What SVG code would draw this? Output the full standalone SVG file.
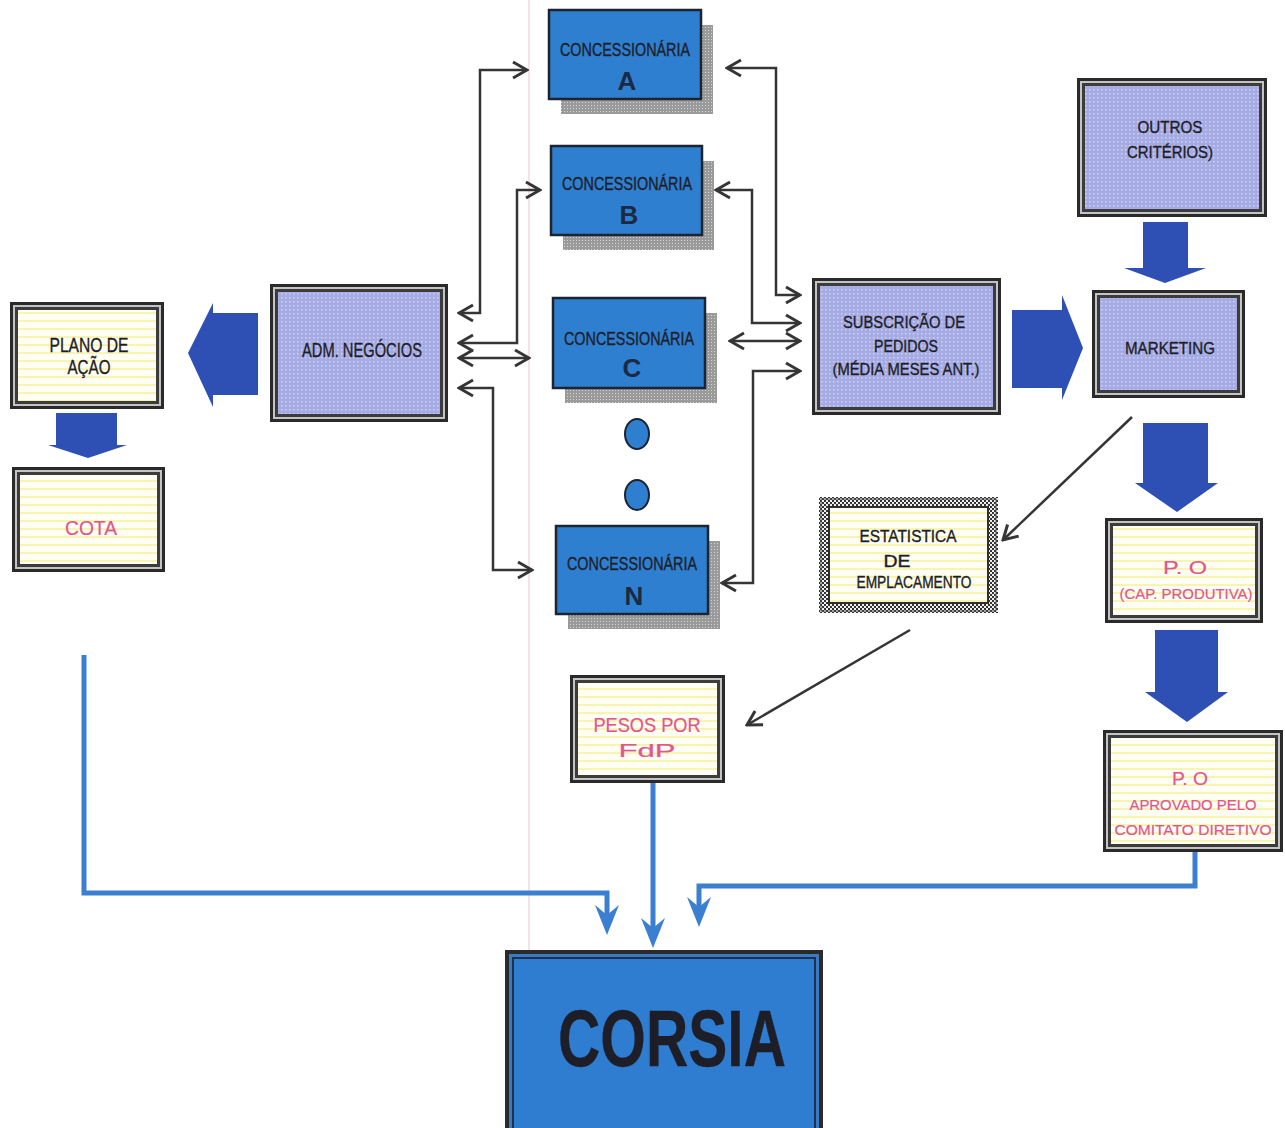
<svg xmlns="http://www.w3.org/2000/svg" width="1285" height="1128" viewBox="0 0 1285 1128">
<style>
.t{font-family:"Liberation Sans",Arial,sans-serif;fill:#1e1e28;stroke:#1e1e28;stroke-width:0.35;text-anchor:middle}
.pk{fill:#e2558f;stroke:#e2558f;stroke-width:0.2}
.cn{font-size:18px}
.lt{font-size:26px;font-weight:bold;fill:#1a2a44;stroke:none}
.md{font-size:20px}
.sm{font-size:16px}
.o1{fill:#2a2a2a}
.o2{fill:#c4c4c4}
.o3{fill:#3c3c3c}
.lav{fill:url(#dots)}
.yel{fill:url(#stripes)}
.conc{fill:#2f7fd0;stroke:#1c2430;stroke-width:2.5}
.shd{fill:url(#shade)}
.blk{fill:#2e4fb3}
.ln{fill:none;stroke:#353535;stroke-width:2.5;marker-start:url(#ah);marker-end:url(#ah)}
.ln1{fill:none;stroke:#353535;stroke-width:2.5;marker-end:url(#ah)}
.bl{fill:none;stroke:#3a7fd0;stroke-width:5;marker-end:url(#bh)}
</style>
<defs>
<pattern id="dots" width="4" height="4" patternUnits="userSpaceOnUse"><rect width="4" height="4" fill="#a6abe3"/><rect x="1" y="1" width="1.5" height="1.5" fill="#cfd2f3"/></pattern>
<pattern id="stripes" width="8" height="8" patternUnits="userSpaceOnUse"><rect width="8" height="8" fill="#fffef3"/><rect width="8" height="2" fill="#f9f4b4"/></pattern>
<pattern id="shade" width="3" height="3" patternUnits="userSpaceOnUse"><rect width="3" height="3" fill="#9a9a9a"/><rect width="1" height="1" fill="#d6d6d6"/></pattern>
<pattern id="checker" width="4" height="4" patternUnits="userSpaceOnUse"><rect width="4" height="4" fill="#efefef"/><rect width="2" height="2" fill="#333"/><rect x="2" y="2" width="2" height="2" fill="#333"/></pattern>
<marker id="ah" viewBox="-17 -10 19 20" refX="0" refY="0" markerWidth="19" markerHeight="20" markerUnits="userSpaceOnUse" orient="auto-start-reverse"><path d="M-14,-8 L0,0 L-14,8" fill="none" stroke="#353535" stroke-width="3"/></marker>
<marker id="bh" viewBox="-22 -14 34 28" refX="0" refY="0" markerWidth="34" markerHeight="28" markerUnits="userSpaceOnUse" orient="auto"><path d="M10,0 L-20,-12 L-10,0 L-20,12 Z" fill="#3a7fd0"/></marker>
</defs>
<rect width="1285" height="1128" fill="#ffffff"/>
<line x1="529" y1="0" x2="529" y2="1128" stroke="#f3e2ec" stroke-width="2"/>

<g id="conc-a">
<rect class="shd" x="561" y="25" width="152" height="89"/>
<rect class="conc" x="549" y="10" width="152" height="89"/>
<text class="t cn" x="625" y="56" textLength="130" lengthAdjust="spacingAndGlyphs">CONCESSIONÁRIA</text>
<text class="t lt" x="627" y="90">A</text>
</g>
<g id="conc-b">
<rect class="shd" x="563" y="161" width="151" height="89"/>
<rect class="conc" x="551" y="146" width="151" height="89"/>
<text class="t cn" x="627" y="190" textLength="130" lengthAdjust="spacingAndGlyphs">CONCESSIONÁRIA</text>
<text class="t lt" x="629" y="224">B</text>
</g>
<g id="conc-c">
<rect class="shd" x="565" y="313" width="152" height="90"/>
<rect class="conc" x="553" y="298" width="152" height="90"/>
<text class="t cn" x="629" y="345" textLength="130" lengthAdjust="spacingAndGlyphs">CONCESSIONÁRIA</text>
<text class="t lt" x="632" y="377">C</text>
</g>
<g id="dots-ellipsis">
<ellipse cx="637" cy="434" rx="12" ry="15" fill="#2f7fd0" stroke="#1c2430" stroke-width="2"/>
<ellipse cx="637" cy="495" rx="12" ry="15" fill="#2f7fd0" stroke="#1c2430" stroke-width="2"/>
</g>
<g id="conc-n">
<rect class="shd" x="568" y="541" width="152" height="88"/>
<rect class="conc" x="556" y="526" width="152" height="88"/>
<text class="t cn" x="632" y="570" textLength="130" lengthAdjust="spacingAndGlyphs">CONCESSIONÁRIA</text>
<text class="t lt" x="634" y="605">N</text>
</g>

<g id="plano">
<rect class="o1" x="10" y="302" width="154" height="107"/>
<rect class="o2" x="13" y="305" width="148" height="101"/>
<rect class="o3" x="15" y="307" width="144" height="97"/>
<rect class="yel" x="18" y="310" width="138" height="91"/>
<text class="t md" x="89" y="352" textLength="79" lengthAdjust="spacingAndGlyphs">PLANO DE</text>
<text class="t md" x="89" y="374" textLength="43" lengthAdjust="spacingAndGlyphs">AÇÃO</text>
</g>
<g id="cota">
<rect class="o1" x="12" y="467" width="153" height="105"/>
<rect class="o2" x="15" y="470" width="147" height="99"/>
<rect class="o3" x="17" y="472" width="143" height="95"/>
<rect class="yel" x="20" y="475" width="137" height="89"/>
<text class="t md pk" x="91" y="535" textLength="52" lengthAdjust="spacingAndGlyphs">COTA</text>
</g>
<g id="adm">
<rect class="o1" x="270" y="284" width="178" height="138"/>
<rect class="o2" x="273" y="287" width="172" height="132"/>
<rect class="o3" x="275" y="289" width="168" height="128"/>
<rect class="lav" x="278" y="292" width="162" height="122"/>
<text class="t md" x="362" y="357" textLength="120" lengthAdjust="spacingAndGlyphs">ADM. NEGÓCIOS</text>
</g>
<g id="subscricao">
<rect class="o1" x="812" y="278" width="189" height="137"/>
<rect class="o2" x="815" y="281" width="183" height="131"/>
<rect class="o3" x="817" y="283" width="179" height="127"/>
<rect class="lav" x="820" y="286" width="173" height="121"/>
<text class="t sm" x="904" y="328" textLength="122" lengthAdjust="spacingAndGlyphs">SUBSCRIÇÃO DE</text>
<text class="t sm" x="906" y="352" textLength="64" lengthAdjust="spacingAndGlyphs">PEDIDOS</text>
<text class="t sm" x="906" y="375" textLength="147" lengthAdjust="spacingAndGlyphs">(MÉDIA MESES ANT.)</text>
</g>
<g id="marketing">
<rect class="o1" x="1092" y="290" width="153" height="108"/>
<rect class="o2" x="1095" y="293" width="147" height="102"/>
<rect class="o3" x="1097" y="295" width="143" height="98"/>
<rect class="lav" x="1100" y="298" width="137" height="92"/>
<text class="t sm" x="1170" y="354" textLength="90" lengthAdjust="spacingAndGlyphs">MARKETING</text>
</g>
<g id="outros">
<rect class="o1" x="1077" y="78" width="190" height="139"/>
<rect class="o2" x="1080" y="81" width="184" height="133"/>
<rect class="o3" x="1082" y="83" width="180" height="129"/>
<rect class="lav" x="1085" y="86" width="174" height="123"/>
<text class="t sm" x="1170" y="133" textLength="65" lengthAdjust="spacingAndGlyphs">OUTROS</text>
<text class="t sm" x="1170" y="158" textLength="86" lengthAdjust="spacingAndGlyphs">CRITÉRIOS)</text>
</g>
<g id="estatistica">
<rect x="819" y="497" width="179" height="116" fill="url(#checker)"/>
<rect x="821" y="499" width="175" height="112" fill="none" stroke="#555" stroke-width="1"/>
<rect x="828" y="506" width="161" height="98" fill="#2f2f2f"/>
<rect class="yel" x="830" y="508" width="157" height="94"/>
<text class="t sm" x="908" y="542" textLength="97" lengthAdjust="spacingAndGlyphs">ESTATISTICA</text>
<text class="t sm" x="897" y="567" textLength="27" lengthAdjust="spacingAndGlyphs">DE</text>
<text class="t sm" x="914" y="588" textLength="115" lengthAdjust="spacingAndGlyphs">EMPLACAMENTO</text>
</g>
<g id="po-cap">
<rect class="o1" x="1105" y="518" width="158" height="105"/>
<rect class="o2" x="1108" y="521" width="152" height="99"/>
<rect class="o3" x="1110" y="523" width="148" height="95"/>
<rect class="yel" x="1113" y="526" width="142" height="89"/>
<text class="t pk" x="1185" y="574" font-size="19" textLength="44" lengthAdjust="spacingAndGlyphs">P. O</text>
<text class="t pk" x="1186" y="599" font-size="15" textLength="133" lengthAdjust="spacingAndGlyphs">(CAP. PRODUTIVA)</text>
</g>
<g id="po-aprovado">
<rect class="o1" x="1103" y="730" width="180" height="122"/>
<rect class="o2" x="1106" y="733" width="174" height="116"/>
<rect class="o3" x="1108" y="735" width="170" height="112"/>
<rect class="yel" x="1111" y="738" width="164" height="106"/>
<text class="t pk" x="1190" y="785" font-size="19" textLength="36" lengthAdjust="spacingAndGlyphs">P. O</text>
<text class="t pk" x="1193" y="810" font-size="15" textLength="127" lengthAdjust="spacingAndGlyphs">APROVADO PELO</text>
<text class="t pk" x="1193" y="835" font-size="15" textLength="157" lengthAdjust="spacingAndGlyphs">COMITATO DIRETIVO</text>
</g>
<g id="pesos">
<rect class="o1" x="570" y="675" width="155" height="108"/>
<rect class="o2" x="573" y="678" width="149" height="102"/>
<rect class="o3" x="575" y="680" width="145" height="98"/>
<rect class="yel" x="578" y="683" width="139" height="92"/>
<text class="t pk" x="647" y="732" font-size="20" textLength="107" lengthAdjust="spacingAndGlyphs">PESOS POR</text>
<text class="t pk" x="647" y="757" font-size="19" textLength="57" lengthAdjust="spacingAndGlyphs">FdP</text>
</g>
<g id="corsia">
<rect class="o1" x="505" y="950" width="318" height="200"/>
<rect x="509" y="954" width="310" height="192" fill="#3a7ac4"/>
<rect x="512" y="957" width="304" height="186" fill="#20324a"/>
<rect x="514" y="959" width="300" height="182" fill="#2f7dd0"/>
<text class="t" x="672" y="1066" font-size="80" font-weight="bold" fill="#1b2233" stroke="#1b2233" stroke-width="1" textLength="228" lengthAdjust="spacingAndGlyphs">CORSIA</text>
</g>

<g id="connectors">
<polygon class="blk" points="188,353 213,303 213,313 258,313 258,395 213,395 213,407"/>
<polygon class="blk" points="56,413 117,413 117,445 127,445 88,458 48,445 56,445"/>
<polygon class="blk" points="1012,310 1062,310 1062,295 1083,348 1062,400 1062,388 1012,388"/>
<polygon class="blk" points="1143,222 1188,222 1188,268 1206,268 1165,283 1124,268 1143,268"/>
<polygon class="blk" points="1143,423 1208,423 1208,483 1218,483 1177,512 1135,483 1143,483"/>
<polygon class="blk" points="1155,630 1218,630 1218,692 1228,692 1187,722 1145,692 1155,692"/>
<path class="ln" d="M459,313 H480 V70 H527"/>
<path class="ln" d="M459,343 H517 V190 H540"/>
<path class="ln" d="M459,358 H529"/>
<path class="ln" d="M459,388 H493 V570 H532"/>
<path class="ln" d="M727,68 H776 V295 H800"/>
<path class="ln" d="M716,190 H752 V323 H800"/>
<path class="ln" d="M730,341 H800"/>
<path class="ln" d="M800,371 H753 V583 H722"/>
<path class="ln1" d="M1132,417 L1003,540"/>
<path class="ln1" d="M910,630 L747,725"/>
<path class="bl" d="M84,655 V893 H607 V925"/>
<path class="bl" d="M653,783 V938"/>
<path class="bl" d="M1195,852 V886 H699 V917"/>
</g>
</svg>
